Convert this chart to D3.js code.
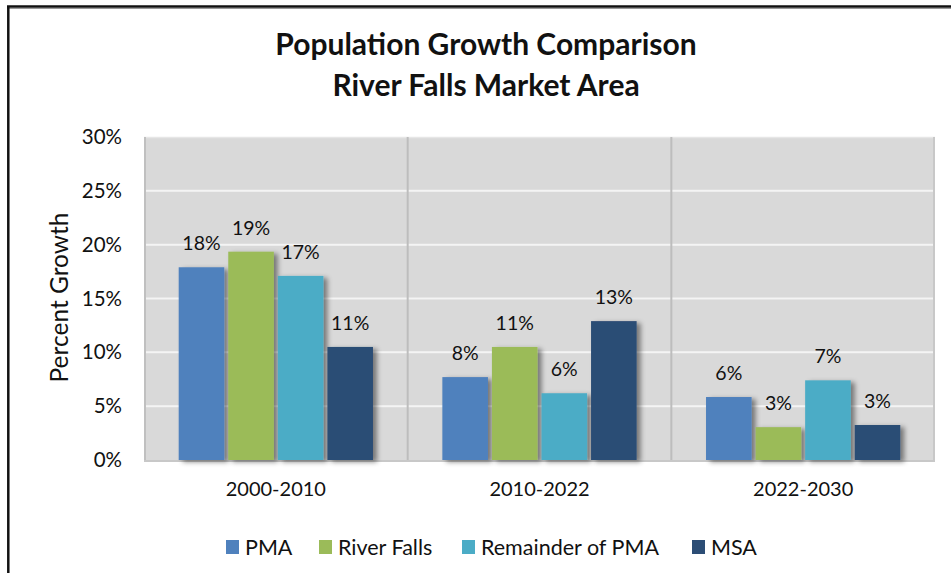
<!DOCTYPE html>
<html>
<head>
<meta charset="utf-8">
<script src="https://cdn.jsdelivr.net/npm/d3@7"></script>
<style>
  body { margin: 0; background: #fff; }
  text { font-family: Lato, "Open Sans", sans-serif; fill: #111; }
</style>
</head>
<body>
<div id="chart"></div>
<script>
// data
const periods = ['2000-2010', '2010-2022', '2022-2030'];
const seriesNames = ['PMA', 'River Falls', 'Remainder of PMA', 'MSA'];
const pma = [17.9, 7.7, 5.85];
const riverFalls = [19.35, 10.5, 3.05];
const remainder = [17.1, 6.2, 7.4];
const msa = [10.5, 12.9, 3.25];
const yTicks = [0, 5, 10, 15, 20, 25, 30];

const colors = ['#4f81bd', '#9bbb59', '#4bacc6', '#2c4d75'];
const values = [pma, riverFalls, remainder, msa];

const width = 951, height = 573;
const margin = { top: 137, right: 16, bottom: 113, left: 144 };
const innerW = width - margin.left - margin.right;
const innerH = height - margin.top - margin.bottom;

const svg = d3.select('#chart').append('svg')
  .attr('width', width)
  .attr('height', height);

// bar shadow
const defs = svg.append('defs');
defs.append('filter')
  .attr('id', 'shadow')
  .attr('x', '-20%').attr('y', '-20%')
  .attr('width', '150%').attr('height', '140%')
  .append('feDropShadow')
  .attr('dx', 4).attr('dy', 2)
  .attr('stdDeviation', 2.5)
  .attr('flood-color', '#000')
  .attr('flood-opacity', 0.45);

// frame (top and left edges only)
svg.append('line').attr('x1', 7).attr('x2', width).attr('y1', 8.5).attr('y2', 8.5)
  .attr('stroke', '#999').attr('stroke-width', 1);
svg.append('line').attr('x1', 7).attr('x2', width).attr('y1', 6.5).attr('y2', 6.5)
  .attr('stroke', '#111').attr('stroke-width', 2.5);
svg.append('line').attr('x1', 8.3).attr('x2', 8.3).attr('y1', 6).attr('y2', height)
  .attr('stroke', '#111').attr('stroke-width', 2.5);

// title
svg.append('text')
  .attr('x', 486).attr('y', 55)
  .attr('text-anchor', 'middle')
  .style('font-size', '30px').style('font-weight', 'bold')
  .text('Population Growth Comparison');
svg.append('text')
  .attr('x', 486).attr('y', 96)
  .attr('text-anchor', 'middle')
  .style('font-size', '30px').style('font-weight', 'bold')
  .text('River Falls Market Area');

const g = svg.append('g')
  .attr('transform', `translate(${margin.left}, ${margin.top})`);

const x0 = d3.scaleBand().domain(periods).range([0, innerW]);
const x1 = d3.scaleBand().domain(seriesNames).range([0, x0.bandwidth()])
  .paddingInner(0.08).paddingOuter(0.7);
const y = d3.scaleLinear().domain([0, 30]).range([innerH, 0]);

// plot area
g.append('rect')
  .attr('width', innerW).attr('height', innerH)
  .attr('fill', '#d9d9d9');
g.append('line').attr('x1', 0).attr('x2', innerW).attr('y1', 0.5).attr('y2', 0.5)
  .attr('stroke', '#e6e6e6').attr('stroke-width', 1.5);

// gridlines
g.append('g')
  .selectAll('line')
  .data(yTicks.filter(d => d > 0 && d < 30))
  .enter().append('line')
    .attr('x1', 0).attr('x2', innerW)
    .attr('y1', d => y(d)).attr('y2', d => y(d))
    .attr('stroke', '#f4f4f4').attr('stroke-width', 2);

// category separators
g.append('g')
  .selectAll('line')
  .data(periods.slice(1))
  .enter().append('line')
    .attr('x1', d => x0(d)).attr('x2', d => x0(d))
    .attr('y1', 0).attr('y2', innerH)
    .attr('stroke', '#bdbdbd').attr('stroke-width', 2);

// plot edges
g.append('line').attr('x1', 1).attr('x2', 1).attr('y1', 0).attr('y2', innerH)
  .attr('stroke', '#c0c0c0').attr('stroke-width', 2);
g.append('line').attr('x1', innerW - 1).attr('x2', innerW - 1).attr('y1', 0).attr('y2', innerH)
  .attr('stroke', '#c8c8c8').attr('stroke-width', 2);
g.append('line').attr('x1', 0).attr('x2', innerW).attr('y1', innerH + 1).attr('y2', innerH + 1)
  .attr('stroke', '#c8c8c8').attr('stroke-width', 2);

// bars
const rows = periods.map((p, i) => ({
  period: p,
  items: seriesNames.map((s, j) => ({ name: s, value: values[j][i], color: colors[j] }))
}));

const groups = g.selectAll('.grp')
  .data(rows)
  .enter().append('g')
    .attr('class', 'grp')
    .attr('transform', d => `translate(${x0(d.period)}, 0)`);

groups.selectAll('rect')
  .data(d => d.items)
  .enter().append('rect')
    .attr('x', d => x1(d.name))
    .attr('y', d => y(d.value))
    .attr('width', x1.bandwidth())
    .attr('height', d => innerH - y(d.value))
    .attr('fill', d => d.color)
    .attr('filter', 'url(#shadow)');

groups.selectAll('.lbl')
  .data(d => d.items)
  .enter().append('text')
    .attr('class', 'lbl')
    .attr('x', d => x1(d.name) + x1.bandwidth() / 2)
    .attr('y', d => y(d.value) - 17)
    .attr('text-anchor', 'middle')
    .style('font-size', '19.5px')
    .text(d => Math.round(d.value) + '%');

// y axis
const yAxis = d3.axisLeft(y).tickValues(yTicks).tickSize(0).tickPadding(22)
  .tickFormat(d => d + '%');
const yg = g.append('g').call(yAxis);
yg.select('.domain').remove();
yg.selectAll('text').style('font-size', '20.5px').attr('fill', '#111')
  .style('font-family', 'Lato, "Open Sans", sans-serif');

g.append('text')
  .attr('transform', 'rotate(-90)')
  .attr('x', -innerH / 2 + 1).attr('y', -76)
  .attr('text-anchor', 'middle')
  .style('font-size', '24.5px')
  .text('Percent Growth');

// x axis
const xAxis = d3.axisBottom(x0).tickSize(0).tickPadding(22);
const xg = g.append('g').attr('transform', `translate(0, ${innerH})`).call(xAxis);
xg.select('.domain').remove();
xg.selectAll('text').style('font-size', '20px').attr('fill', '#111')
  .style('font-family', 'Lato, "Open Sans", sans-serif');

// legend
const legendX = [226, 319, 462, 692];
const legend = svg.append('g').attr('transform', 'translate(0, 547)');
const items = legend.selectAll('g')
  .data(seriesNames)
  .enter().append('g')
    .attr('transform', (d, i) => `translate(${legendX[i]}, 0)`);
items.append('rect')
  .attr('y', -7).attr('width', 13).attr('height', 14)
  .attr('fill', (d, i) => colors[i]);
items.append('text')
  .attr('x', 19).attr('y', 7.5)
  .style('font-size', '21.5px')
  .text(d => d);
</script>
</body>
</html>
